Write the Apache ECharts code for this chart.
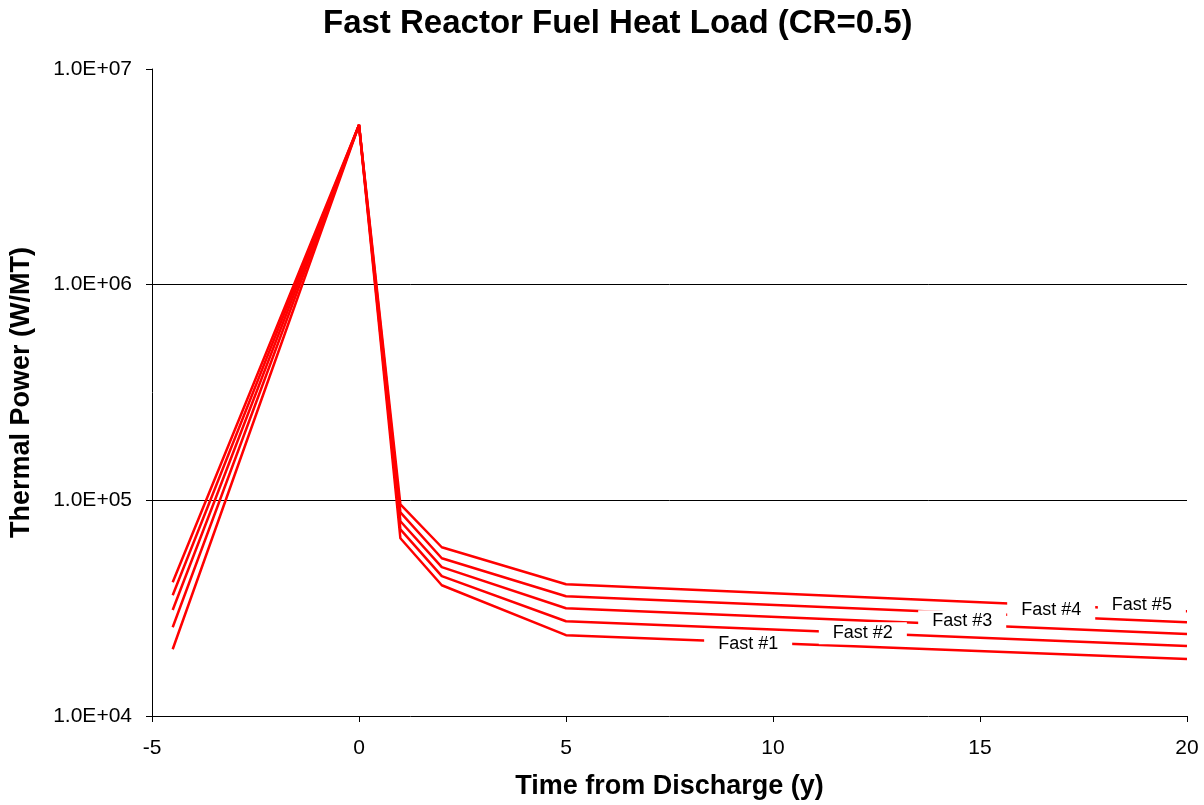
<!DOCTYPE html>
<html>
<head>
<meta charset="utf-8">
<script src="https://cdn.jsdelivr.net/npm/echarts@6/dist/echarts.min.js"></script>
<style>
html,body{margin:0;padding:0;background:#fff;}
#chart{width:1204px;height:805px;}
</style>
</head>
<body>
<div id="chart"></div>
<script>
const years = [-4.5, 0, 1, 2, 5, 20];
const seriesNames = ['Fast #1', 'Fast #2', 'Fast #3', 'Fast #4', 'Fast #5'];
const fast1 = [20400, 5500000, 66700, 40400, 23700, 18400];
const fast2 = [25800, 5500000, 73400, 44500, 27500, 21100];
const fast3 = [31000, 5500000, 80000, 49000, 31600, 24000];
const fast4 = [36300, 5500000, 87900, 53900, 35900, 27200];
const fast5 = [41700, 5500000, 95800, 60600, 40800, 30600];
const allSeries = [fast1, fast2, fast3, fast4, fast5];

// label anchor spots (in data space), separate from the data
const labelSpots = [[9.4, 21500], [12.17, 24200], [14.57, 27500], [16.72, 31000], [18.91, 32700]];

const FONT = '"Liberation Sans", Arial, sans-serif';

function fmtExp(v) {
  const e = Math.round(Math.log10(v));
  const m = v / Math.pow(10, e);
  const sign = e < 0 ? '-' : '+';
  const a = Math.abs(e);
  return m.toFixed(1) + 'E' + sign + (a < 10 ? '0' : '') + a;
}

const chart = echarts.init(document.getElementById('chart'), null, {renderer: 'canvas'});

const series = allSeries.map((vals, i) => ({
  name: seriesNames[i],
  type: 'line',
  data: years.map((x, j) => [x, vals[j]]),
  symbol: 'none',
  lineStyle: {color: '#FF0000', width: 2.5},
  itemStyle: {color: '#FF0000'},
  z: 2,
  markPoint: {
    z: 5,
    symbol: 'rect',
    symbolSize: 0,
    data: [{coord: labelSpots[i], value: seriesNames[i]}],
    label: {
      show: true,
      position: 'inside',
      formatter: seriesNames[i],
      color: '#000',
      fontFamily: FONT,
      fontSize: 18,
      backgroundColor: '#fff',
      padding: [2, 14]
    }
  }
}));

const option = {
  backgroundColor: '#fff',
  animation: false,
  title: {
    text: 'Fast Reactor Fuel Heat Load (CR=0.5)',
    left: 318,
    top: 2,
    textStyle: {fontFamily: FONT, fontSize: 33, fontWeight: 'bold', color: '#000'}
  },
  grid: {left: 152, right: 17, top: 69, bottom: 88},
  xAxis: {
    type: 'value',
    min: -5, max: 20, interval: 5,
    name: 'Time from Discharge (y)',
    nameLocation: 'middle',
    nameGap: 57,
    nameTextStyle: {fontFamily: FONT, fontSize: 27, fontWeight: 'bold', color: '#000'},
    axisLine: {onZero: false, lineStyle: {color: '#000', width: 1}},
    axisTick: {show: true, inside: false, length: 6, lineStyle: {color: '#000'}},
    axisLabel: {fontFamily: FONT, fontSize: 21, color: '#000', margin: 22},
    splitLine: {show: false}
  },
  yAxis: {
    type: 'log',
    logBase: 10,
    min: 10000, max: 10000000,
    name: 'Thermal Power (W/MT)',
    nameLocation: 'middle',
    nameGap: 117,
    nameTextStyle: {fontFamily: FONT, fontSize: 27, fontWeight: 'bold', color: '#000'},
    axisLine: {show: true, onZero: false, lineStyle: {color: '#000', width: 1}},
    axisTick: {show: true, inside: false, length: 6, lineStyle: {color: '#000'}},
    axisLabel: {fontFamily: FONT, fontSize: 21, color: '#000', margin: 20, formatter: fmtExp},
    splitLine: {show: true, showMinLine: false, showMaxLine: false, lineStyle: {color: '#000', width: 1}},
    minorTick: {show: false},
    minorSplitLine: {show: false}
  },
  series: series
};

chart.setOption(option);
</script>
</body>
</html>
